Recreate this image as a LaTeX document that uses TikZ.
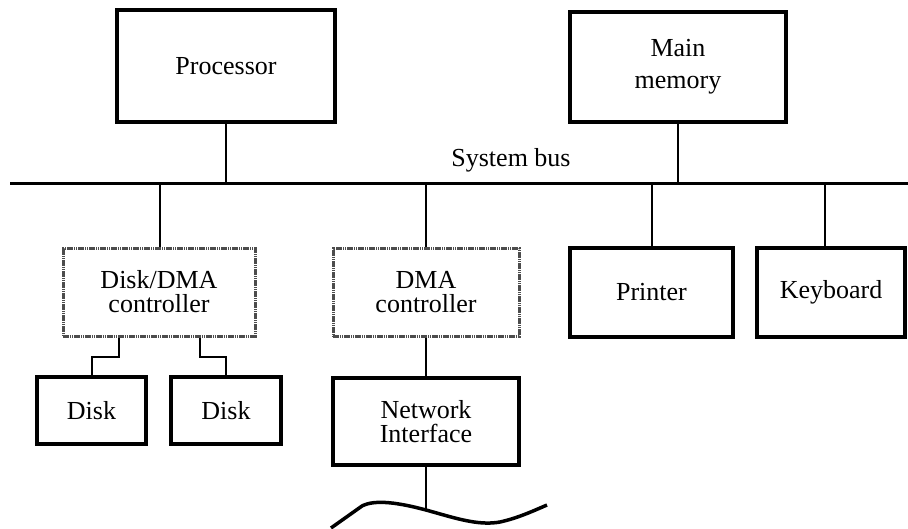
\documentclass[tikz,border=0pt]{standalone}
\usepackage{fontspec}
\setmainfont{Liberation Serif}
\begin{document}
\begin{tikzpicture}[x=1pt,y=-1pt,
  box/.style={draw, line width=3.5pt, minimum width=#1, inner sep=0pt, align=center, font=\fontsize{26}{24}\selectfont},
  gbox/.style={draw=black!70, line width=3pt, dash pattern=on 1.6pt off 0.6pt, minimum width=#1, inner sep=0pt, align=center, font=\fontsize{26}{24}\selectfont},
  wire/.style={line width=2pt},
  bus/.style={line width=3pt}]
\useasboundingbox (0,0) rectangle (908,528);
% top boxes
\node[box=218pt, minimum height=112pt] (proc) at (226,66) {Processor};
\node[box=216pt, minimum height=110pt, font=\fontsize{26}{32}\selectfont] (mem) at (678,67) {Main\\memory};
% bus
\coordinate (bL) at (10,183);
\coordinate (bR) at (908,183);
\draw[bus] (bL) -- (bR);
\node[font=\fontsize{26}{30}\selectfont] (buslbl) at (511,160) {System bus};
% lower boxes
\node[gbox=192pt, minimum height=88pt] (dc) at (159,292) {Disk/DMA\\controller};
\node[gbox=186pt, minimum height=88pt] (dma) at (426,292) {DMA\\controller};
\node[box=163pt, minimum height=89pt] (prn) at (651.5,292.5) {Printer};
\node[box=148pt, minimum height=89pt] (kbd) at (831,292.5) {Keyboard};
\node[box=109pt, minimum height=67pt] (d1) at (91.5,410.5) {Disk};
\node[box=110pt, minimum height=67pt] (d2) at (226,410.5) {Disk};
\node[box=186pt, minimum height=87pt] (ni) at (426,421.5) {Network\\Interface};
% connectors to bus
\draw[wire] (proc.south) -- (proc.south |- bL);
\draw[wire] (mem.south) -- (mem.south |- bL);
\draw[wire] (dc.north -| 160,0) -- (160,183);
\draw[wire] (dma.north) -- (dma.north |- bL);
\draw[wire] (prn.north) -- (prn.north |- bL);
\coordinate (kt) at (825,248);
\draw[wire] (kt) -- (kt |- bL);
% disks
\draw[wire] ([xshift=-40pt]dc.south) -- ++(0,19) -| (d1.north);
\draw[wire] ([xshift=41pt]dc.south) -- ++(0,19) -| (d2.north);
% network
\draw[wire] (dma.south) -- (ni.north);
\coordinate (w) at (426,510);
\draw[line width=3.5pt] (331,528) -- (362,506) .. controls (375,499) and (400,503) .. (w)
  .. controls (455,518) and (478,526) .. (500,522) .. controls (518,518) and (533,511) .. (547,505);
\draw[wire] (ni.south) -- (w);
\end{tikzpicture}
\end{document}
